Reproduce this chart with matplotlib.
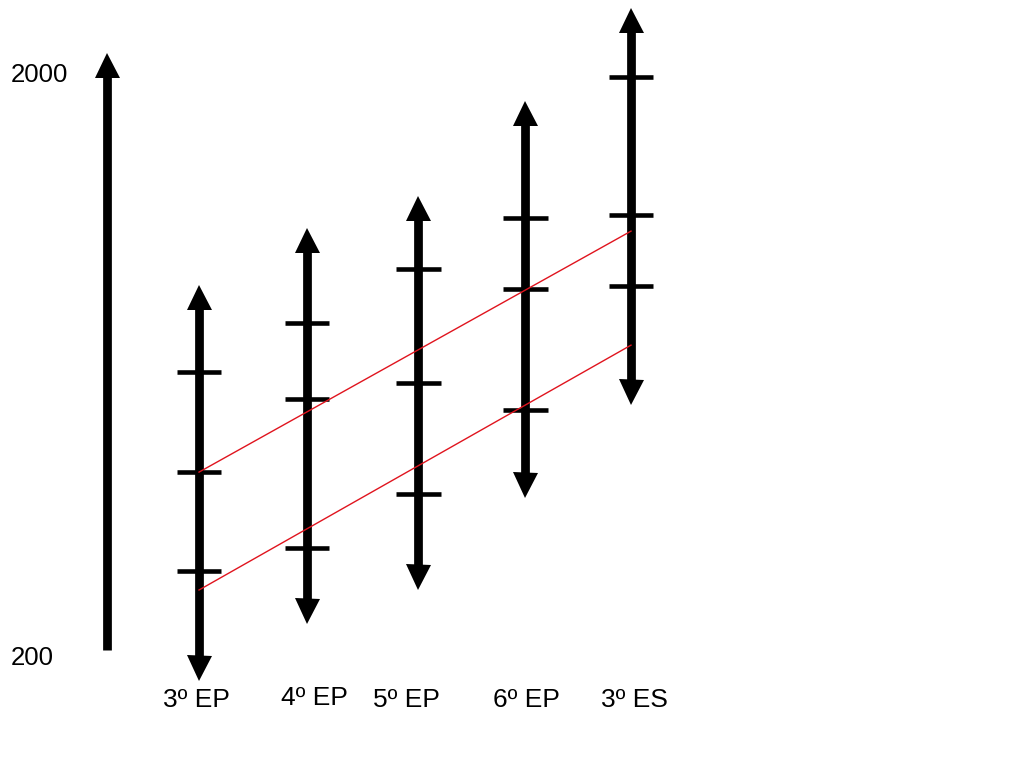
import matplotlib.pyplot as plt
from matplotlib.transforms import offset_copy

plt.rcParams['font.family'] = ['Liberation Sans', 'DejaVu Sans']

# grades and the ranges of each arrow (scale 200..2000)
grades = ['3º EP', '4º EP', '5º EP', '6º EP', '3º ES']
arrow_low = [132, 308, 410, 697, 984]
arrow_high = [1352, 1528, 1629, 1920, 2207]
ticks = [
    [469, 774, 1083],
    [540, 1000, 1234],
    [706, 1049, 1401],
    [966, 1339, 1558],
    [1349, 1568, 1994],
]
# red bands from first to last grade
band_upper = [774, 1518]
band_lower = [410, 1166]
scale_min, scale_max = 200, 2000
main_axis = [225, 2071]

fig = plt.figure(figsize=(10.24, 7.68), dpi=100)
ax = fig.add_axes([0, 0, 1, 1])
ax.set_xlim(-0.843, 8.639)
ax.set_ylim(-139.6, 2231.6)
ax.axis('off')

xs = [1, 2.0, 3.028, 4.019, 5.0]
label_dx = [-0.02, 0.065, -0.11, 0.01, 0.03]
label_y = [70, 76, 70, 70, 70]

head_pt = 18          # head size in points (width == length)
head_units = 25 * 3.0875 - 10  # approx head length in data units, shaft stops inside head
up_head = offset_copy(ax.transData, fig, y=-head_pt / 2, units='points')
down_head = offset_copy(ax.transData, fig, y=head_pt / 2, units='points')


def arrow(x, lo, hi, both=True):
    start = lo + head_units if both else lo
    ax.plot([x, x], [start, hi - head_units], color='black', lw=6.3,
            solid_capstyle='butt')
    ax.plot([x], [hi], marker='^', ms=head_pt, mew=0, color='black',
            transform=up_head)
    if both:
        ax.plot([x], [lo], marker='v', ms=head_pt, mew=0, color='black',
                transform=down_head)


# main scale arrow
arrow(0.148, main_axis[0], main_axis[1], both=False)
ax.text(-0.48, scale_max, str(scale_max), fontsize=18.5, ha='center', va='center')
ax.text(-0.54, scale_min, str(scale_min), fontsize=18.5, ha='center', va='center')

for i, (x, lo, hi, tk, g) in enumerate(zip(xs, arrow_low, arrow_high, ticks, grades)):
    arrow(x, lo, hi)
    for t in tk:
        ax.plot([x - 0.208, x + 0.208], [t, t], color='black', lw=3.3,
                solid_capstyle='butt')
    ax.text(x + label_dx[i], label_y[i], g, fontsize=19, ha='center', va='center')

ax.plot([xs[0], xs[-1]], band_upper, color='#e0141e', lw=1)
ax.plot([xs[0], xs[-1]], band_lower, color='#e0141e', lw=1)

fig.savefig('out.png', dpi=100)
